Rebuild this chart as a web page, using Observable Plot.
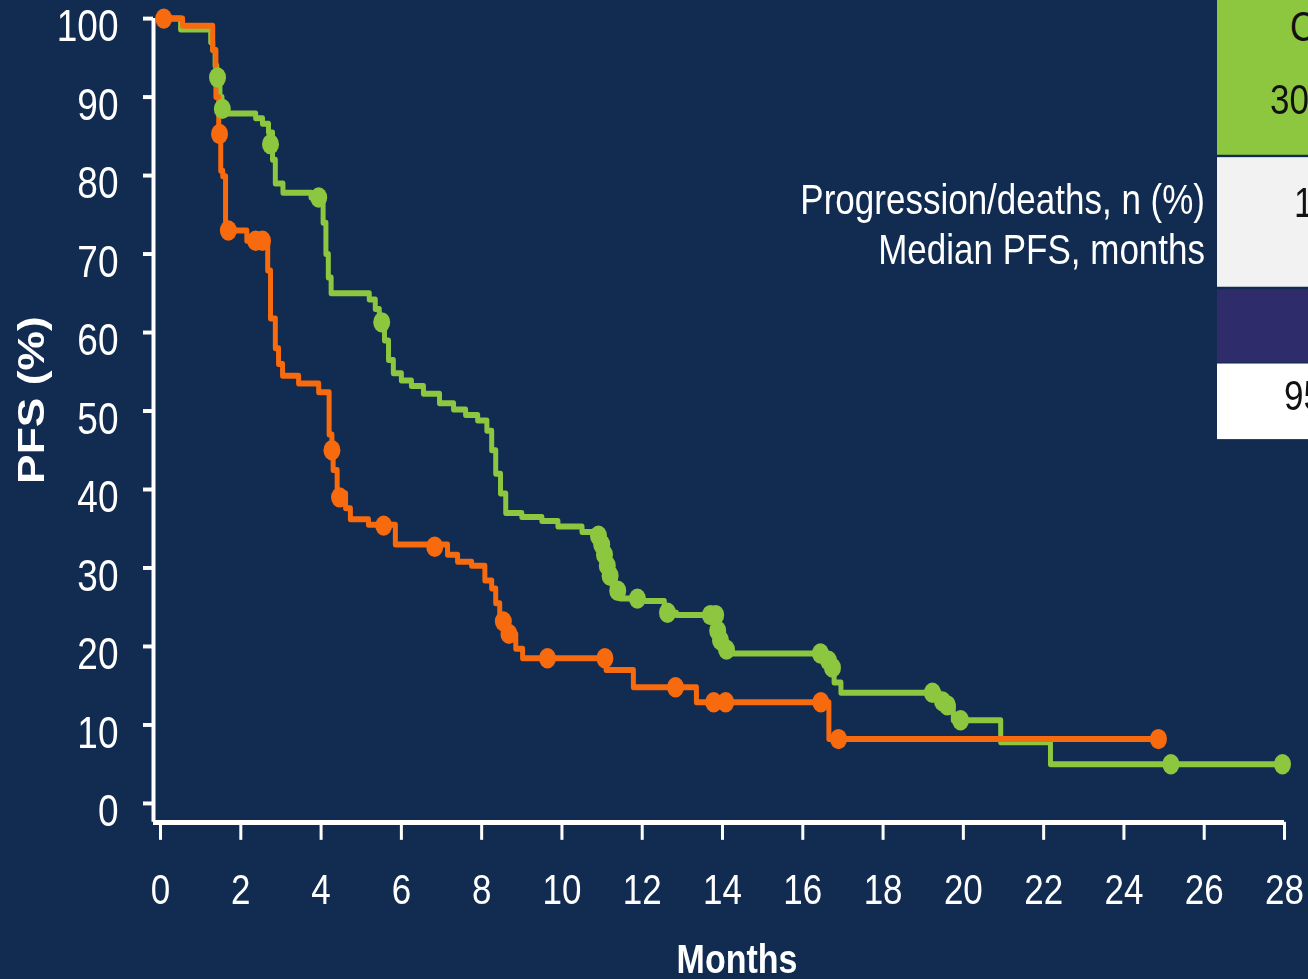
<!DOCTYPE html>
<html>
<head>
<meta charset="utf-8">
<script src="https://cdn.jsdelivr.net/npm/d3@7"></script>
<script src="https://cdn.jsdelivr.net/npm/@observablehq/plot@0.6"></script>
<style>
  html, body { margin: 0; padding: 0; }
  body {
    width: 1308px; height: 979px; overflow: hidden; position: relative;
    background: #112b51;
    font-family: "Liberation Sans", Arial, sans-serif;
  }
  /* the whole figure is drawn 816px tall and stretched to 979px, like the reference */
  #stage { position: absolute; left: 0; top: 0; width: 1308px; height: 816px;
           transform: scaleY(1.19975); transform-origin: 0 0; }
  #chart { position: absolute; left: 0; top: 0; }
  .lbl { position: absolute; color: #fff; font-size: 35px; line-height: 35px; white-space: nowrap; }
  .cell { position: absolute; left: 1217px; width: 200px; }
  .ct { position: absolute; color: #111; font-size: 35px; line-height: 35px; white-space: nowrap; }
</style>
</head>
<body>
<div id="stage">
  <div id="chart"></div>

  <div class="lbl" style="right:103px; top:148px;">Progression/deaths, n (%)</div>
  <div class="lbl" style="right:103px; top:190px;">Median PFS, months</div>

  <div class="cell" style="top:0; height:129px; background:#8dc63f;"></div>
  <div class="cell" style="top:131px; height:108px; background:#f2f2f2;"></div>
  <div class="cell" style="top:241px; height:61px; background:#2e2c6b;"></div>
  <div class="cell" style="top:303px; height:63px; background:#ffffff;"></div>
  <div class="ct" style="left:1290px; top:4px;">C</div>
  <div class="ct" style="left:1270px; top:65px;">30</div>
  <div class="ct" style="left:1294px; top:151px;">1</div>
  <div class="ct" style="left:1284px; top:312px;">95</div>
</div>

<script>
// ---- data ----
const xTicks = [0, 2, 4, 6, 8, 10, 12, 14, 16, 18, 20, 22, 24, 26, 28];
const yTicks = [0, 10, 20, 30, 40, 50, 60, 70, 80, 90, 100];
const xAxisStart = -0.175;   // where the y-axis line sits (months)
const yAxisStart = -2.42;    // where the x-axis line sits (%)
const xMax = 28;
const yMax = 100;

// Green arm: Kaplan–Meier steps (months, PFS %)
const greenTime = [0, 0.5, 1.25, 1.30, 1.36, 1.40, 1.48, 1.53, 1.58, 2.37, 2.54, 2.69, 2.79, 2.86, 3.05, 3.75,
  4.05, 4.12, 4.18, 4.25, 5.20, 5.35, 5.45, 5.58, 5.68, 5.80, 6.00, 6.25, 6.55, 6.95, 7.30, 7.60, 7.90,
  8.13, 8.25, 8.35, 8.47, 8.60, 9.00, 9.50, 9.90, 10.50, 10.88, 10.96, 11.03, 11.10, 11.17, 11.25, 11.35,
  11.45, 12.00, 12.55, 12.85, 13.86, 13.92, 14.02, 14.20, 16.60, 16.72, 16.78, 16.95, 19.40, 19.55, 19.75,
  20.93, 22.17, 27.98];
const greenSurv = [100, 98.6, 97, 96, 94, 92.5, 90, 88.5, 87.9, 87.3, 86.6, 85.5, 82, 79, 77.8, 77.2,
  74, 70, 67, 65, 64.2, 63, 61.3, 59, 56.5, 54.8, 53.9, 53.2, 52.2, 51, 50.2, 49.5, 48.8,
  47.5, 45, 42, 39.5, 37, 36.5, 36, 35.3, 34.6, 34.1, 33, 31.7, 30.3, 29, 27.8, 27.1,
  26.1, 25.8, 24.3, 24.0, 22.0, 20.8, 19.6, 19.1, 18.2, 17.3, 15.4, 14.1, 13.0, 12.5, 10.6,
  7.8, 5.0, 5.0];
const greenCensorTime = [1.42, 1.54, 2.74, 3.94, 5.51, 10.91, 10.99, 11.06, 11.13, 11.20, 11.39, 11.88, 12.63,
  13.70, 13.83, 13.88, 13.95, 14.10, 16.44, 16.64, 16.74, 19.23, 19.48, 19.60, 19.93, 25.17, 27.95];
const greenCensorSurv = [92.5, 88.5, 84.0, 77.2, 61.3, 34.1, 33.0, 31.7, 30.3, 29.0, 27.1, 26.1, 24.3,
  24.0, 24.0, 22.0, 20.8, 19.6, 19.1, 18.2, 17.3, 14.1, 13.0, 12.5, 10.6, 5.0, 5.0];

// Orange arm
const orangeTime = [0, 0.55, 1.30, 1.38, 1.45, 1.50, 1.55, 1.62, 2.15, 2.67, 2.74, 2.86, 2.94, 3.04, 3.44, 3.94,
  4.20, 4.27, 4.30, 4.40, 4.61, 4.73, 5.18, 5.85, 7.15, 7.40, 7.75, 8.08, 8.25, 8.35, 8.45, 8.60, 8.85,
  9.02, 11.10, 11.78, 13.35, 16.65, 24.86];
const orangeSurv = [100, 99.1, 96, 90, 85.5, 80.6, 79.9, 73.0, 71.7, 67.9, 61.8, 58.0, 56.0, 54.5, 53.5, 52.4,
  47.0, 44.5, 42.5, 39.5, 37.6, 36.2, 35.5, 33.0, 31.7, 30.8, 30.3, 28.4, 27.4, 25.5, 23.5, 21.6, 19.7,
  18.5, 17.0, 14.8, 12.9, 8.2, 8.2];
const orangeCensorTime = [0.08, 1.47, 1.69, 2.37, 2.54, 4.27, 4.46, 5.56, 6.83, 8.54, 8.68, 9.64, 11.07, 12.83,
  13.78, 14.08, 16.45, 16.89, 24.86];
const orangeCensorSurv = [100, 85.3, 73.0, 71.7, 71.7, 45.0, 39.0, 35.4, 32.7, 23.2, 21.6, 18.5, 18.5, 14.8,
  12.9, 12.9, 12.9, 8.2, 8.2];

const xTitle = "Months";
const yTitle = "PFS (%)";

const GREEN = "#8dc63f";
const ORANGE = "#f76a0e";
const AXIS = "#ffffff";

const rows = (T, S) => T.map((t, i) => ({ t, s: S[i] }));

const chart = Plot.plot({
  width: 1308,
  height: 816,
  marginLeft: 153,
  marginRight: 24,
  marginTop: 15,
  marginBottom: 131,
  x: { domain: [xAxisStart, xMax] },
  y: { domain: [yAxisStart, yMax] },
  style: {
    background: "transparent",
    color: "#ffffff",
    fontFamily: "'Liberation Sans', Arial, sans-serif",
    overflow: "visible"
  },
  marks: [
    // axis lines
    Plot.ruleX([xAxisStart], { stroke: AXIS, strokeWidth: 4 }),
    Plot.ruleY([yAxisStart], { stroke: AXIS, strokeWidth: 4.2 }),
    // x ticks + labels
    Plot.axisX({ ticks: xTicks, tickSize: 15, tickPadding: 28, fontSize: 35, strokeWidth: 3,
      stroke: AXIS, fill: AXIS, label: null, tickFormat: d => String(d) }),
    // y ticks
    Plot.axisY({ ticks: yTicks, tickSize: 10, tickPadding: 25, strokeWidth: 3.3, stroke: AXIS,
      fill: "none", label: null }),
    // y labels
    Plot.axisY({ ticks: yTicks, tickSize: 0, tickPadding: 35, fontSize: 37, fill: AXIS, dy: 7,
      label: null, tickFormat: d => String(d) }),
    // titles
    Plot.text([xTitle], { text: d => d, frameAnchor: "bottom", lineAnchor: "middle", textAnchor: "middle",
      dx: 18, dy: 115, fontSize: 34, fontWeight: "bold", fill: AXIS }),
    Plot.text([yTitle], { text: d => d, frameAnchor: "left", rotate: -90, lineAnchor: "middle", textAnchor: "middle",
      dx: -121, dy: -17, fontSize: 37, fontWeight: "bold", fill: AXIS }),
    // curves
    Plot.line(rows(greenTime, greenSurv), { x: "t", y: "s", curve: "step-after", stroke: GREEN, strokeWidth: 5 }),
    Plot.line(rows(orangeTime, orangeSurv), { x: "t", y: "s", curve: "step-after", stroke: ORANGE, strokeWidth: 5 }),
    Plot.dot(rows(greenCensorTime, greenCensorSurv), { x: "t", y: "s", r: 8.5, fill: GREEN, stroke: "none" }),
    Plot.dot(rows(orangeCensorTime, orangeCensorSurv), { x: "t", y: "s", r: 8.5, fill: ORANGE, stroke: "none" })
  ]
});
document.getElementById("chart").appendChild(chart);
</script>
</body>
</html>
